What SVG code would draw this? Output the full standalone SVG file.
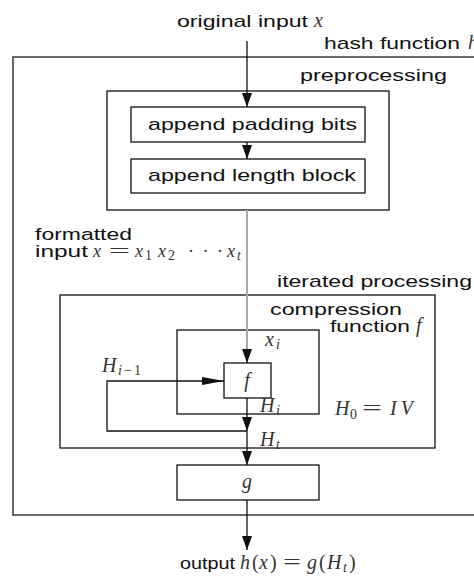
<svg xmlns="http://www.w3.org/2000/svg" width="474" height="576" viewBox="0 0 474 576">
<style>
.sans{font-family:"Liberation Sans",Arial,sans-serif;font-size:17px;fill:#111}
.tight{font-size:16px}
.math{font-family:"Liberation Serif","Times New Roman",serif;font-style:italic;font-size:20px;fill:#333}
.m18{font-size:18px}
.rm{font-style:normal}
.sub{font-size:14px}
.box{fill:#fff;stroke:#111;stroke-width:1.3}
.frame{fill:none;stroke:#111;stroke-width:1.3}
.outer{fill:none;stroke:#444;stroke-width:1.6}
.ln{fill:none;stroke:#111;stroke-width:1.3}
.gl{fill:none;stroke:#aaa;stroke-width:2}
</style>
<defs>
<marker id="ah" viewBox="0 0 14 10" refX="14" refY="5" markerWidth="14" markerHeight="10" orient="auto" markerUnits="userSpaceOnUse"><path d="M0,0 L14,5 L0,10 z" fill="#111"/></marker>
<marker id="ahl" viewBox="0 0 22 8" refX="22" refY="4" markerWidth="22" markerHeight="8" orient="auto" markerUnits="userSpaceOnUse"><path d="M0,0 L22,4 L0,8 z" fill="#111"/></marker>
</defs>

<g id="hash-function">
<rect class="outer" x="13" y="57" width="480" height="458"/>
<text class="sans" x="324" y="49" textLength="136" lengthAdjust="spacingAndGlyphs">hash function</text>
<text class="math" x="468" y="49">h</text>
</g>

<g id="input-label">
<text class="sans" x="177" y="27" textLength="131" lengthAdjust="spacingAndGlyphs">original input</text>
<text class="math" x="314" y="27">x</text>
</g>

<g id="preprocessing">
<rect class="frame" x="107" y="91" width="282" height="119"/>
<text class="sans" x="300" y="81" textLength="147" lengthAdjust="spacingAndGlyphs">preprocessing</text>
</g>

<g id="padding">
<rect class="box" x="131" y="107" width="234" height="35"/>
<text class="sans" x="148" y="130" textLength="209" lengthAdjust="spacingAndGlyphs">append padding bits</text>
</g>

<g id="length">
<rect class="box" x="131" y="159" width="234" height="34"/>
<text class="sans" x="148" y="181" textLength="208" lengthAdjust="spacingAndGlyphs">append length block</text>
</g>

<g id="formatted-label">
<text class="sans tight" x="35" y="240" textLength="97" lengthAdjust="spacingAndGlyphs">formatted</text>
<text class="sans tight" x="35" y="257" textLength="53" lengthAdjust="spacingAndGlyphs">input</text>
<text class="math m18" x="93" y="257">x</text>
<text class="math m18 rm" x="109" y="257" textLength="21" lengthAdjust="spacingAndGlyphs">=</text>
<text class="math m18" x="135" y="257">x</text>
<text class="math rm sub" x="145" y="260">1</text>
<text class="math m18" x="158" y="257">x</text>
<text class="math rm sub" x="168" y="260">2</text>
<text class="math m18 rm" x="188" y="257" textLength="35" lengthAdjust="spacing">···</text>
<text class="math m18" x="227" y="257">x</text>
<text class="math sub" x="237" y="260">t</text>
</g>

<g id="iterated-processing">
<rect class="frame" x="60" y="295" width="375" height="153"/>
<text class="sans" x="277" y="287" textLength="195" lengthAdjust="spacingAndGlyphs">iterated processing</text>
<text class="math" x="335" y="415">H</text>
<text class="math rm sub" x="350" y="419">0</text>
<text class="math rm" x="362" y="415" textLength="20" lengthAdjust="spacingAndGlyphs">=</text>
<text class="math" x="390" y="415" letter-spacing="4">IV</text>
</g>

<g id="compression-function">
<rect class="frame" x="177" y="330" width="142" height="84"/>
<text class="sans" x="270" y="315" textLength="132" lengthAdjust="spacingAndGlyphs">compression</text>
<text class="sans" x="330" y="332" textLength="80" lengthAdjust="spacingAndGlyphs">function</text>
<text class="math" x="416" y="332">f</text>
</g>

<g id="f">
<rect class="box" x="224" y="363" width="47" height="35"/>
<text class="math" x="247" y="387" text-anchor="middle">f</text>
</g>

<g id="g">
<rect class="box" x="177" y="465" width="142" height="35"/>
<text class="math" x="247" y="488" text-anchor="middle">g</text>
</g>

<g id="output-label">
<text class="sans" x="180" y="569" textLength="55" lengthAdjust="spacingAndGlyphs">output</text>
<text class="math" x="240" y="569">h</text>
<text class="math rm" x="252" y="569">(</text>
<text class="math" x="259" y="569">x</text>
<text class="math rm" x="270" y="569">)</text>
<text class="math rm" x="283" y="569" textLength="18" lengthAdjust="spacingAndGlyphs">=</text>
<text class="math" x="307" y="569">g</text>
<text class="math rm" x="319" y="569">(</text>
<text class="math" x="327" y="569">H</text>
<text class="math sub" x="343" y="572">t</text>
<text class="math rm" x="349" y="569">)</text>
</g>

<g id="connectors">
<line class="ln" x1="247" y1="41" x2="247" y2="107" marker-end="url(#ah)"/>
<line class="ln" x1="247" y1="142" x2="247" y2="159" marker-end="url(#ah)"/>
<line class="gl" x1="247" y1="210" x2="247" y2="352"/>
<line class="ln" x1="247" y1="350" x2="247" y2="363" marker-end="url(#ah)"/>
<line class="ln" x1="247" y1="398" x2="247" y2="431" marker-end="url(#ah)"/>
<path class="ln" d="M247,431 H107 V381 H224" marker-end="url(#ahl)"/>
<line class="ln" x1="247" y1="431" x2="247" y2="465" marker-end="url(#ah)"/>
<line class="ln" x1="247" y1="500" x2="247" y2="550" marker-end="url(#ah)"/>
<text class="math" x="265" y="346">x</text>
<text class="math sub" x="276" y="349">i</text>
<text class="math" x="102" y="372">H</text>
<text class="math sub" x="118" y="375">i</text>
<text class="math rm sub" x="124" y="375" letter-spacing="2">−1</text>
<text class="math" x="260" y="412">H</text>
<text class="math sub" x="276" y="415">i</text>
<text class="math" x="260" y="446">H</text>
<text class="math sub" x="276" y="449">t</text>
</g>
</svg>
